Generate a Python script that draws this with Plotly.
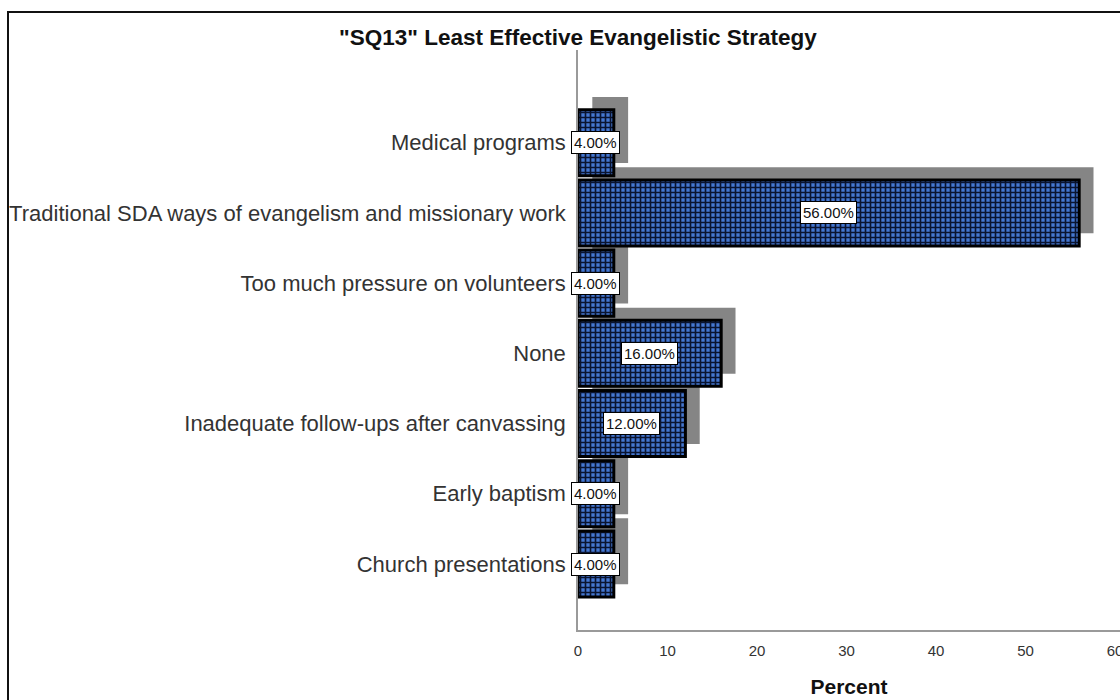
import plotly.graph_objects as go

# Survey responses (percent of respondents), listed top to bottom
categories = [
    "Medical programs",
    "Traditional SDA ways of evangelism and missionary work",
    "Too much pressure on volunteers",
    "None",
    "Inadequate follow-ups after canvassing",
    "Early baptism",
    "Church presentations",
]
percents = [4, 56, 4, 16, 12, 4, 4]
x_ticks = [0, 10, 20, 30, 40, 50, 60]

W, H = 1120, 700
M_L, M_R, M_T, M_B = 578, 0, 50, 70

n = len(categories)
ypos = [n - 1 - i for i in range(n)]
labels = [f"{v:.2f}%" for v in percents]

BAR_W = 0.94
SHADOW_DX = 1.6    # shadow shift in percent units
SHADOW_DY = 0.18   # shadow shift in category units

fig = go.Figure()

# drop shadow behind each bar
fig.add_trace(go.Bar(
    orientation="h",
    y=[p + SHADOW_DY for p in ypos],
    x=percents,
    base=SHADOW_DX,
    width=BAR_W,
    marker=dict(color="#858585", line=dict(width=0)),
    hoverinfo="skip",
    showlegend=False,
))

# main bars with a checkered fill
fig.add_trace(go.Bar(
    orientation="h",
    y=ypos,
    x=percents,
    width=BAR_W,
    marker=dict(
        color="#3f70c8",
        line=dict(color="#000000", width=3),
        pattern=dict(shape="+", size=5, solidity=0.55,
                     fgcolor="#0a1430", bgcolor="#4477d0", fillmode="replace"),
    ),
    hoverinfo="skip",
    showlegend=False,
))

# value labels in white boxes at the middle of each bar
for v, p, t in zip(percents, ypos, labels):
    fig.add_annotation(
        x=v / 2, y=p, text=t, showarrow=False,
        font=dict(family="Liberation Sans, Arial, sans-serif", size=15, color="#111111"),
        bgcolor="#ffffff", bordercolor="#000000", borderwidth=1, borderpad=2,
        xanchor="center", yanchor="middle",
    )

plot_w = W - M_L - M_R
plot_h = H - M_T - M_B

# outer frame around the chart
fig.add_shape(
    type="rect", xref="paper", yref="paper",
    x0=(8 - M_L) / plot_w, x1=(W + 20 - M_L) / plot_w,
    y0=-(H + 20 - M_T - plot_h) / plot_h, y1=(H - M_B - 12) / plot_h,
    line=dict(color="#111111", width=2), fillcolor="rgba(0,0,0,0)",
    layer="above",
)

fig.update_layout(
    width=W, height=H,
    margin=dict(l=M_L, r=M_R, t=M_T, b=M_B, autoexpand=False),
    paper_bgcolor="#ffffff", plot_bgcolor="#ffffff",
    barmode="overlay",
    font=dict(family="Liberation Sans, Arial, sans-serif", color="#333333"),
    title=dict(
        text='"SQ13" Least Effective Evangelistic Strategy',
        font=dict(family="Liberation Sans, Arial, sans-serif", size=22.5, color="#111111",
                  weight="bold"),
        xref="paper", x=0, xanchor="center",
        yref="container", y=1 - 37 / H, yanchor="middle",
    ),
    xaxis=dict(
        range=[0, 60.56], tickvals=x_ticks, ticktext=[str(t) for t in x_ticks],
        showgrid=False, zeroline=False,
        showline=True, linecolor="#9a9a9a", linewidth=1.5,
        ticks="", ticklabelstandoff=6, ticklabeloverflow="allow",
        tickfont=dict(size=15, color="#333333"),
        title=dict(text="Percent", standoff=22,
                   font=dict(size=21, color="#111111", weight="bold")),
        automargin=False,
    ),
    yaxis=dict(
        range=[-0.94, 7.32], tickvals=ypos, ticktext=categories,
        showgrid=False, zeroline=False,
        showline=True, linecolor="#9a9a9a", linewidth=1.5,
        ticks="", ticklabelstandoff=6,
        tickfont=dict(size=22, color="#333333"),
        automargin=False,
    ),
)

fig.write_html("out.html")
